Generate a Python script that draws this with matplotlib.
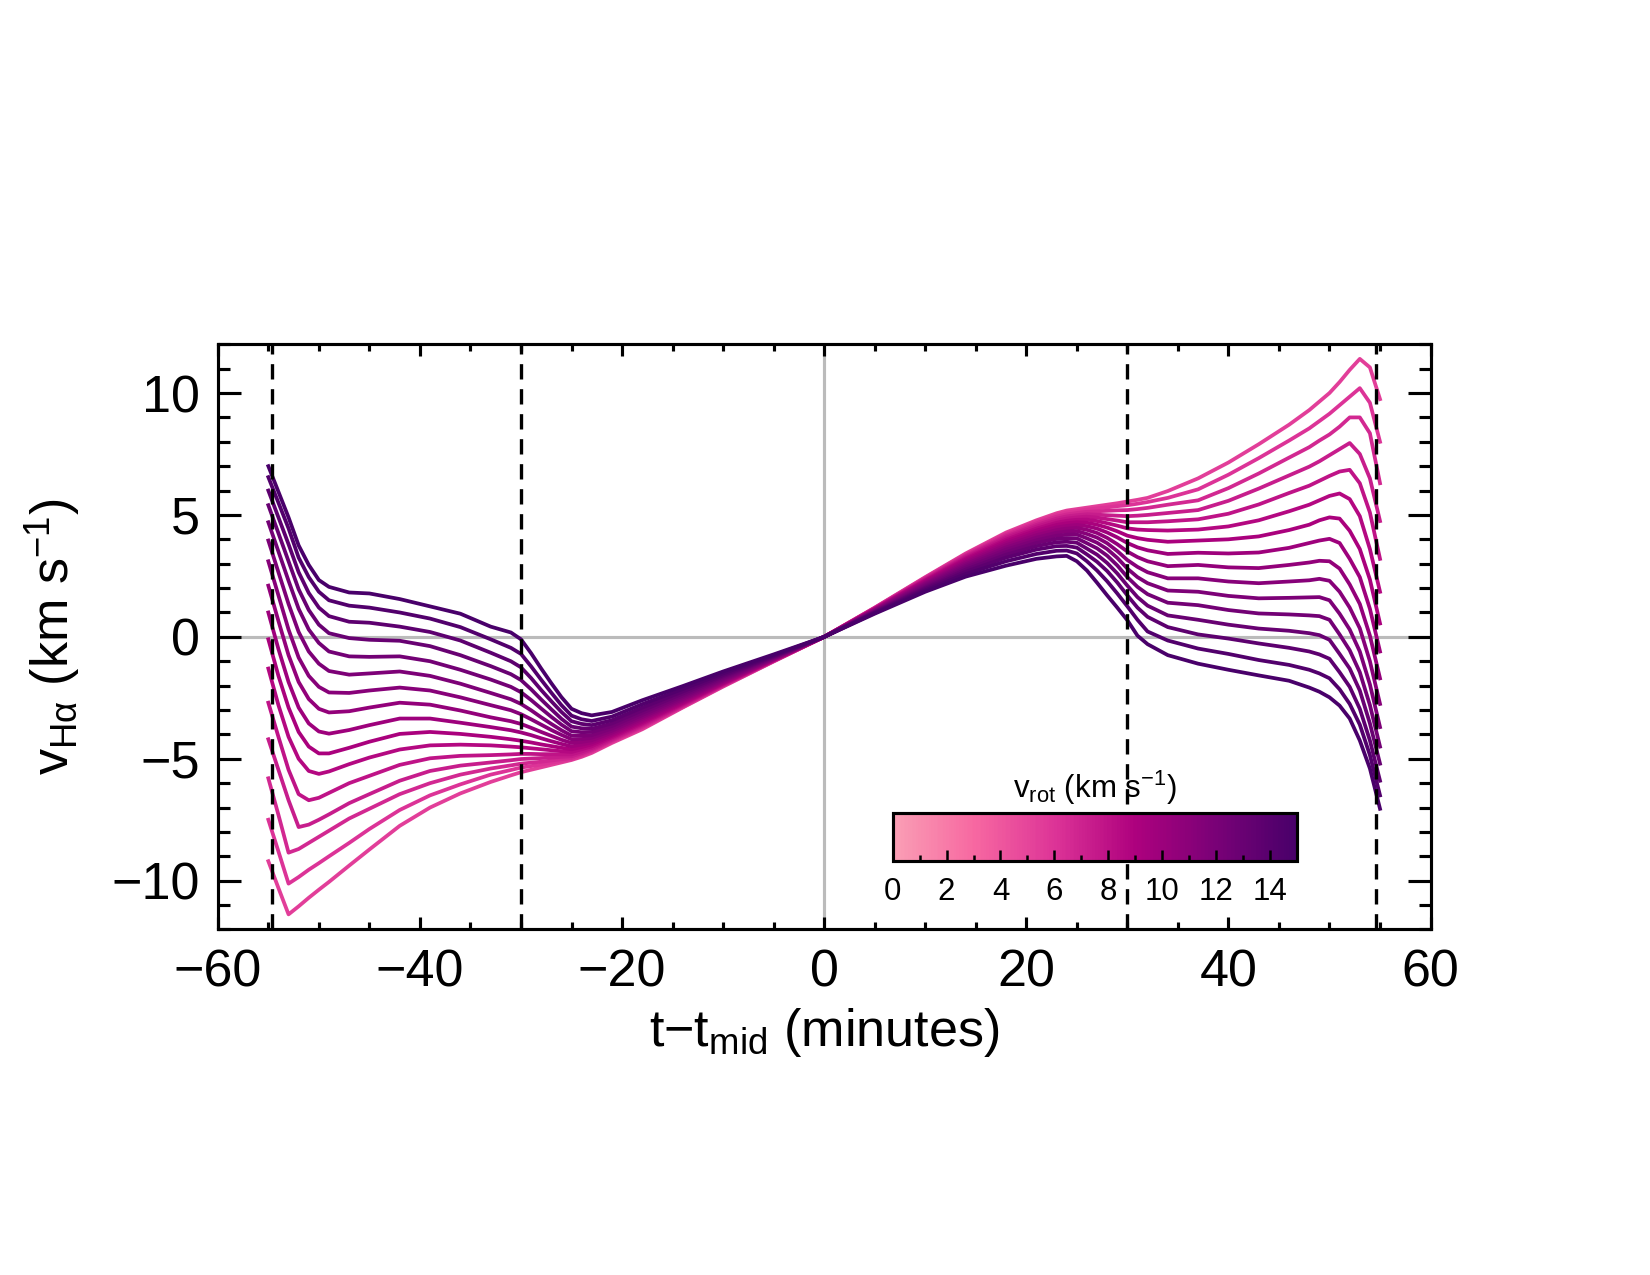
import numpy as np
import matplotlib
matplotlib.use("Agg")
import matplotlib.pyplot as plt
from matplotlib.colors import LinearSegmentedColormap
from matplotlib.ticker import MultipleLocator

# IDL-ish look: Helvetica-like font everywhere
plt.rcParams["font.family"] = ["Liberation Sans", "DejaVu Sans"]
plt.rcParams["mathtext.fontset"] = "custom"
plt.rcParams["mathtext.rm"] = "Liberation Sans"
plt.rcParams["mathtext.it"] = "Liberation Sans:italic"
plt.rcParams["mathtext.bf"] = "Liberation Sans:bold"

# time from mid-transit (minutes), shared by all curves
T_MIN = [-55, -54, -53, -52, -51, -50, -49, -47, -45, -42, -39, -36, -33, -31, -30, -29, -28, -27, -26, -25,
         -24, -23, -21, -18, -14, -10, -5, 0,
         5, 10, 14, 18, 21, 23, 24, 25, 26, 27, 28, 29, 30, 31, 32, 34, 37, 40, 43, 46,
         48, 49, 50, 51, 52, 53, 54, 55]

# H-alpha velocity (km/s), one list per v_rot value (0..15 km/s)
VROT_0 = [-9.2, -10.3, -11.38, -11.05, -10.7, -10.37, -10.05, -9.38, -8.72, -7.75, -7.0, -6.42, -5.95, -5.68, -5.55, -5.45, -5.35, -5.25, -5.15, -5.05, -4.92, -4.76, -4.35, -3.79, -2.9, -2.04, -1.01, 0.0,
          1.2, 2.45, 3.42, 4.28, 4.78, 5.07, 5.18, 5.24, 5.3, 5.36, 5.42, 5.48, 5.55, 5.62, 5.7, 5.98, 6.5, 7.15, 7.9, 8.7, 9.3, 9.65, 10.0, 10.45, 10.95, 11.4, 11.05, 9.75]
VROT_1 = [-7.5, -8.8, -10.12, -9.85, -9.55, -9.28, -9.0, -8.45, -7.88, -7.1, -6.5, -6.05, -5.65, -5.46, -5.36, -5.30, -5.24, -5.16, -5.09, -5.02, -4.88, -4.71, -4.3, -3.74, -2.88, -2.02, -1.0, 0.0,
          1.19, 2.43, 3.39, 4.23, 4.72, 5.0, 5.1, 5.16, 5.22, 5.27, 5.31, 5.36, 5.4, 5.46, 5.53, 5.7, 6.05, 6.65, 7.33, 8.05, 8.55, 8.85, 9.15, 9.5, 9.85, 10.2, 9.6, 8.0]
VROT_2 = [-5.8, -7.3, -8.85, -8.7, -8.45, -8.2, -7.95, -7.45, -7.05, -6.45, -6.0, -5.65, -5.4, -5.27, -5.2, -5.16, -5.12, -5.07, -5.02, -4.97, -4.83, -4.67, -4.26, -3.7, -2.85, -2.0, -0.99, 0.0,
          1.18, 2.41, 3.35, 4.18, 4.66, 4.93, 5.02, 5.08, 5.13, 5.15, 5.17, 5.19, 5.2, 5.24, 5.29, 5.42, 5.6, 6.1, 6.7, 7.35, 7.78, 8.05, 8.3, 8.62, 9.0, 9.0, 8.35, 6.3]
VROT_3 = [-4.2, -5.45, -6.7, -7.8, -7.7, -7.5, -7.28, -6.82, -6.45, -5.9, -5.5, -5.28, -5.15, -5.06, -5.01, -4.99, -4.97, -4.95, -4.92, -4.9, -4.77, -4.62, -4.22, -3.65, -2.82, -1.98, -0.98, 0.0,
          1.17, 2.38, 3.31, 4.12, 4.59, 4.85, 4.94, 4.99, 5.03, 5.01, 4.99, 4.97, 4.95, 4.97, 5.0, 5.08, 5.2, 5.58, 6.08, 6.62, 6.98, 7.2, 7.45, 7.7, 7.95, 7.5, 6.5, 4.75]
VROT_4 = [-2.7, -4.1, -5.45, -6.45, -6.7, -6.6, -6.4, -6.0, -5.7, -5.25, -4.98, -4.88, -4.85, -4.82, -4.8, -4.8, -4.81, -4.81, -4.82, -4.82, -4.7, -4.56, -4.17, -3.6, -2.79, -1.96, -0.97, 0.0,
          1.16, 2.35, 3.27, 4.06, 4.52, 4.77, 4.85, 4.9, 4.93, 4.89, 4.83, 4.77, 4.7, 4.7, 4.7, 4.74, 4.82, 5.05, 5.43, 5.9, 6.2, 6.4, 6.6, 6.78, 6.85, 6.3, 5.1, 3.2]
VROT_5 = [-1.3, -2.8, -4.1, -5.0, -5.5, -5.62, -5.52, -5.22, -4.95, -4.62, -4.45, -4.42, -4.45, -4.5, -4.53, -4.57, -4.61, -4.65, -4.69, -4.72, -4.61, -4.49, -4.12, -3.55, -2.75, -1.93, -0.96, 0.0,
          1.15, 2.32, 3.22, 3.99, 4.44, 4.68, 4.76, 4.8, 4.81, 4.75, 4.66, 4.56, 4.45, 4.4, 4.38, 4.36, 4.4, 4.53, 4.78, 5.15, 5.42, 5.6, 5.78, 5.88, 5.65, 4.95, 3.6, 1.85]
VROT_6 = [-0.1, -1.6, -2.9, -3.9, -4.5, -4.78, -4.78, -4.55, -4.3, -3.98, -3.9, -3.98, -4.1, -4.2, -4.26, -4.33, -4.41, -4.48, -4.55, -4.61, -4.52, -4.41, -4.06, -3.49, -2.71, -1.9, -0.94, 0.0,
          1.13, 2.29, 3.17, 3.92, 4.36, 4.59, 4.66, 4.7, 4.68, 4.6, 4.48, 4.33, 4.15, 4.05, 3.98, 3.9, 3.95, 4.0, 4.12, 4.38, 4.6, 4.78, 4.9, 4.85, 4.35, 3.6, 2.35, 0.55]
VROT_7 = [1.0, -0.5, -1.85, -2.9, -3.55, -3.88, -3.97, -3.82, -3.62, -3.35, -3.35, -3.52, -3.7, -3.83, -3.92, -4.03, -4.16, -4.28, -4.39, -4.49, -4.42, -4.33, -4.0, -3.43, -2.66, -1.87, -0.93, 0.0,
          1.12, 2.25, 3.11, 3.84, 4.27, 4.49, 4.55, 4.59, 4.54, 4.44, 4.28, 4.08, 3.85, 3.67, 3.55, 3.4, 3.45, 3.42, 3.46, 3.65, 3.85, 3.95, 4.02, 3.85, 3.2, 2.45, 1.15, -0.6]
VROT_8 = [2.1, 0.65, -0.75, -1.85, -2.55, -2.95, -3.1, -3.05, -2.9, -2.7, -2.78, -3.02, -3.3, -3.46, -3.57, -3.73, -3.9, -4.06, -4.22, -4.35, -4.31, -4.24, -3.93, -3.36, -2.61, -1.83, -0.91, 0.0,
          1.1, 2.21, 3.05, 3.76, 4.17, 4.38, 4.44, 4.47, 4.39, 4.26, 4.06, 3.8, 3.5, 3.27, 3.1, 2.9, 2.95, 2.85, 2.82, 2.95, 3.05, 3.12, 3.1, 2.8, 2.15, 1.35, 0.05, -1.7]
VROT_9 = [3.1, 1.7, 0.3, -0.85, -1.6, -2.05, -2.28, -2.3, -2.2, -2.08, -2.2, -2.48, -2.8, -3.01, -3.17, -3.38, -3.6, -3.82, -4.02, -4.2, -4.19, -4.14, -3.85, -3.29, -2.55, -1.79, -0.89, 0.0,
          1.08, 2.17, 2.98, 3.67, 4.07, 4.27, 4.32, 4.34, 4.22, 4.07, 3.84, 3.52, 3.15, 2.87, 2.65, 2.4, 2.4, 2.27, 2.2, 2.27, 2.32, 2.38, 2.3, 1.85, 1.2, 0.35, -1.0, -2.75]
VROT_10 = [3.95, 2.65, 1.35, 0.2, -0.6, -1.1, -1.4, -1.55, -1.5, -1.42, -1.6, -1.92, -2.3, -2.56, -2.75, -3.01, -3.3, -3.57, -3.83, -4.05, -4.06, -4.03, -3.76, -3.21, -2.48, -1.74, -0.87, 0.0,
           1.06, 2.12, 2.91, 3.58, 3.96, 4.15, 4.19, 4.2, 4.04, 3.86, 3.6, 3.24, 2.8, 2.45, 2.2, 1.9, 1.85, 1.68, 1.58, 1.6, 1.62, 1.63, 1.5, 0.95, 0.3, -0.6, -1.95, -3.7]
VROT_11 = [4.7, 3.5, 2.3, 1.15, 0.3, -0.25, -0.6, -0.8, -0.82, -0.8, -1.0, -1.35, -1.75, -2.05, -2.27, -2.59, -2.94, -3.28, -3.6, -3.87, -3.91, -3.9, -3.66, -3.12, -2.41, -1.69, -0.84, 0.0,
           1.04, 2.07, 2.84, 3.48, 3.85, 4.02, 4.05, 4.04, 3.84, 3.63, 3.33, 2.93, 2.45, 2.05, 1.75, 1.4, 1.3, 1.1, 0.96, 0.92, 0.88, 0.85, 0.7, 0.1, -0.55, -1.45, -2.8, -4.5]
VROT_12 = [5.4, 4.25, 3.1, 1.95, 1.1, 0.5, 0.15, -0.05, -0.12, -0.16, -0.38, -0.75, -1.2, -1.53, -1.77, -2.15, -2.57, -2.97, -3.36, -3.68, -3.75, -3.77, -3.55, -3.02, -2.33, -1.63, -0.82, 0.0,
           1.02, 2.02, 2.76, 3.37, 3.72, 3.88, 3.9, 3.86, 3.62, 3.37, 3.03, 2.6, 2.1, 1.63, 1.28, 0.88, 0.7, 0.5, 0.34, 0.25, 0.15, 0.07, -0.12, -0.7, -1.3, -2.2, -3.55, -5.2]
VROT_13 = [6.0, 4.9, 3.8, 2.65, 1.8, 1.2, 0.85, 0.62, 0.58, 0.42, 0.2, -0.15, -0.65, -1.0, -1.25, -1.69, -2.18, -2.64, -3.08, -3.46, -3.57, -3.62, -3.42, -2.9, -2.24, -1.57, -0.79, 0.0,
           1.0, 1.97, 2.67, 3.25, 3.58, 3.72, 3.73, 3.66, 3.38, 3.08, 2.7, 2.23, 1.7, 1.2, 0.82, 0.4, 0.1, -0.07, -0.27, -0.45, -0.6, -0.72, -0.9, -1.45, -2.05, -2.95, -4.25, -5.9]
VROT_14 = [6.55, 5.5, 4.45, 3.25, 2.45, 1.85, 1.5, 1.28, 1.2, 1.0, 0.75, 0.4, -0.1, -0.45, -0.7, -1.21, -1.76, -2.29, -2.8, -3.23, -3.38, -3.45, -3.27, -2.76, -2.14, -1.5, -0.76, 0.0,
           0.98, 1.91, 2.58, 3.1, 3.4, 3.53, 3.54, 3.42, 3.1, 2.72, 2.28, 1.78, 1.25, 0.7, 0.22, -0.15, -0.48, -0.7, -0.95, -1.15, -1.35, -1.5, -1.7, -2.15, -2.75, -3.6, -4.85, -6.5]
VROT_15 = [7.0, 5.95, 4.9, 3.75, 2.95, 2.33, 2.05, 1.82, 1.78, 1.55, 1.25, 0.95, 0.42, 0.18, -0.1, -0.67, -1.3, -1.9, -2.47, -2.95, -3.13, -3.22, -3.08, -2.6, -2.02, -1.42, -0.72, 0.0,
           0.95, 1.85, 2.47, 2.92, 3.2, 3.3, 3.32, 3.1, 2.72, 2.22, 1.7, 1.2, 0.68, 0.05, -0.3, -0.75, -1.1, -1.35, -1.58, -1.8, -2.08, -2.25, -2.48, -2.82, -3.35, -4.25, -5.4, -7.05]

V_ROT = list(range(16))
DASHED_T = [-54.6, -30, 30, 54.6]
CBAR_TICKS = [0, 2, 4, 6, 8, 10, 12, 14]


def sub_cmap(name, lo, hi, n=256):
    base = plt.colormaps[name]
    return LinearSegmentedColormap.from_list(name + "_sub", base(np.linspace(lo, hi, n)))


curves = [VROT_0, VROT_1, VROT_2, VROT_3, VROT_4, VROT_5, VROT_6, VROT_7,
          VROT_8, VROT_9, VROT_10, VROT_11, VROT_12, VROT_13, VROT_14, VROT_15]
for i, c in enumerate(curves):
    if len(c) != len(T_MIN):
        raise ValueError(f"curve {i} has {len(c)} points, expected {len(T_MIN)}")

line_cmap = sub_cmap("RdPu", 0.6, 1.0)
bar_cmap = sub_cmap("RdPu", 0.375, 1.0)

fig = plt.figure(figsize=(11, 8.5), dpi=150)
ax = fig.add_axes([0.132, 0.271, 0.735, 0.459])

ax.axhline(0, color="#bbbbbb", linewidth=1.5, zorder=1)
ax.axvline(0, color="#bbbbbb", linewidth=1.5, zorder=1)

for v, vel in zip(V_ROT, curves):
    ax.plot(T_MIN, vel, color=line_cmap(v / 15.0), linewidth=1.8, zorder=2,
            solid_joinstyle="round")

for t in DASHED_T:
    ax.axvline(t, color="black", linewidth=1.6, linestyle=(0, (4.6, 2.9)), zorder=3)

ax.set_xlim(-60, 60)
ax.set_ylim(-12, 12)
ax.xaxis.set_major_locator(MultipleLocator(20))
ax.xaxis.set_minor_locator(MultipleLocator(5))
ax.yaxis.set_major_locator(MultipleLocator(5))
ax.yaxis.set_minor_locator(MultipleLocator(1))

ax.tick_params(which="both", direction="in", top=True, right=True, width=1.5, labelsize=25)
ax.tick_params(axis="x", which="major", length=5.8, pad=9)
ax.tick_params(axis="x", which="minor", length=3.4)
ax.tick_params(axis="y", which="major", length=11, pad=8.5)
ax.tick_params(axis="y", which="minor", length=5.6)
for sp in ax.spines.values():
    sp.set_linewidth(1.5)

ax.set_xlabel("t\u2212t$_{\\mathregular{mid}}$ (minutes)", fontsize=25, labelpad=4)
ax.set_ylabel("v$_{\\mathregular{H\u03b1}}$ (km s$^{\\mathregular{\u22121}}$)", fontsize=25, labelpad=14)

# colour bar for v_rot
cax = fig.add_axes([0.541, 0.325, 0.245, 0.0376])
sm = plt.cm.ScalarMappable(cmap=bar_cmap, norm=plt.Normalize(0, 15))
cb = fig.colorbar(sm, cax=cax, orientation="horizontal")
cb.outline.set_linewidth(1.5)
cb.set_ticks(CBAR_TICKS)
cax.xaxis.set_minor_locator(MultipleLocator(1))
cax.tick_params(which="both", direction="in", bottom=True, top=False, width=1.2, labelsize=15, pad=8)
cax.tick_params(which="major", length=5.5)
cax.tick_params(which="minor", length=2.8)
cax.text(0.5, 1.12, "v$_{\\mathregular{rot}}$ (km s$^{\\mathregular{\u22121}}$)", transform=cax.transAxes,
         ha="center", va="bottom", fontsize=15)

fig.savefig("out.png", dpi=150)
